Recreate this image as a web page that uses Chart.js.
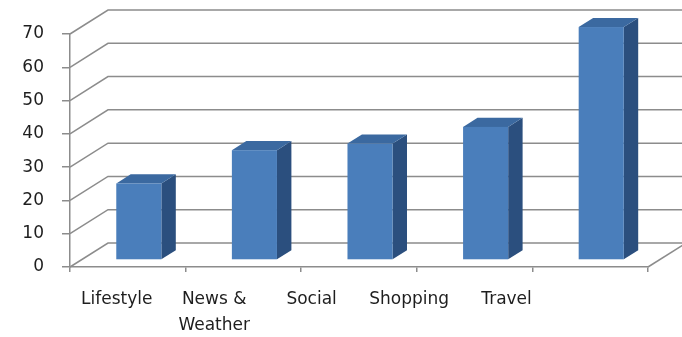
<!DOCTYPE html>
<html>
<head>
<meta charset="utf-8">
<script src="https://cdn.jsdelivr.net/npm/chart.js@4.4.1/dist/chart.umd.min.js"></script>
<style>
    html, body { margin: 0; padding: 0; background: #ffffff; }
    #wrap { width: 682px; height: 337px; position: relative; }
</style>
</head>
<body>
<div id="wrap"><canvas id="usage"></canvas></div>
<script>
// Categories and values
const categories = ['Lifestyle', ['News &', 'Weather'], 'Social', 'Shopping', 'Travel'];
const usageValues = [23, 33, 35, 40, 70];
const yTicks = [0, 10, 20, 30, 40, 50, 60, 70];

// 3D look: how far the back wall sits behind the front plane
const DEPTH_X = 38;
const DEPTH_Y = 24;
const BAR_FRONT = 0.29;   // bar front face, as a fraction of the depth
const BAR_DEPTH = 0.38;   // bar thickness, as a fraction of the depth

const GRID_COLOR = '#8c8c8c';
const FONT = '17px "DejaVu Sans", sans-serif';

// Walls, floor and gridlines behind the bars
const wallsPlugin = {
    id: 'walls',
    beforeDatasetsDraw(chart) {
        const { ctx, chartArea, scales } = chart;
        const y = scales.y;
        ctx.save();
        ctx.strokeStyle = GRID_COLOR;
        ctx.lineWidth = 1.5;
        yTicks.forEach(v => {
            const py = y.getPixelForValue(v);
            ctx.beginPath();
            ctx.moveTo(chartArea.left, py);
            ctx.lineTo(chartArea.left + DEPTH_X, py - DEPTH_Y);
            ctx.lineTo(chartArea.right + DEPTH_X, py - DEPTH_Y);
            ctx.stroke();
        });
        // right edge of the floor
        const base = y.getPixelForValue(0);
        ctx.beginPath();
        ctx.moveTo(chartArea.right, base);
        ctx.lineTo(chartArea.right + DEPTH_X, base - DEPTH_Y);
        ctx.stroke();
        ctx.restore();
    }
};

// Draw each bar as a box instead of a flat rectangle
const boxPlugin = {
    id: 'boxes',
    beforeDatasetDraw(chart, args) {
        const { ctx } = chart;
        const meta = args.meta;
        const fx = DEPTH_X * BAR_FRONT, fy = DEPTH_Y * BAR_FRONT;
        const dx = DEPTH_X * BAR_DEPTH, dy = DEPTH_Y * BAR_DEPTH;
        ctx.save();
        meta.data.forEach(bar => {
            const p = bar.getProps(['x', 'y', 'base', 'width'], true);
            const x0 = p.x - p.width / 2 + fx;
            const x1 = x0 + p.width;
            const top = p.y - fy;
            const bottom = p.base - fy;

            // side face
            ctx.fillStyle = '#2b4f7e';
            ctx.beginPath();
            ctx.moveTo(x1, top);
            ctx.lineTo(x1 + dx, top - dy);
            ctx.lineTo(x1 + dx, bottom - dy);
            ctx.lineTo(x1, bottom);
            ctx.closePath();
            ctx.fill();

            // top face
            ctx.fillStyle = '#3b69a0';
            ctx.beginPath();
            ctx.moveTo(x0, top);
            ctx.lineTo(x0 + dx, top - dy);
            ctx.lineTo(x1 + dx, top - dy);
            ctx.lineTo(x1, top);
            ctx.closePath();
            ctx.fill();

            // front face
            ctx.fillStyle = '#4a7ebb';
            ctx.fillRect(x0, top, p.width, bottom - top);
        });
        ctx.restore();
        return false;
    }
};

// Category names under the floor
const labelPlugin = {
    id: 'catLabels',
    afterDraw(chart) {
        const { ctx, chartArea, scales } = chart;
        const x = scales.x;
        ctx.save();
        ctx.font = FONT;
        ctx.fillStyle = '#1e1e1e';
        ctx.textAlign = 'center';
        ctx.textBaseline = 'middle';
        categories.forEach((label, i) => {
            const px = chartArea.left + (x.getPixelForValue(i) - chartArea.left) * 0.843 - 2;
            const lines = Array.isArray(label) ? label : [label];
            lines.forEach((line, j) => {
                ctx.fillText(line, px, chartArea.bottom + 33 + j * 26);
            });
        });
        ctx.restore();
    }
};

new Chart(document.getElementById('usage'), {
    type: 'bar',
    data: {
        labels: categories,
        datasets: [{
            data: usageValues,
            backgroundColor: '#4a7ebb',
            categoryPercentage: 1,
            barPercentage: 0.39
        }]
    },
    options: {
        responsive: true,
        maintainAspectRatio: false,
        animation: false,
        layout: { padding: { top: 34, right: 34, left: 0, bottom: 0 } },
        plugins: {
            legend: { display: false },
            tooltip: { enabled: false }
        },
        scales: {
            x: {
                afterFit(scale) { scale.height = 70; },
                ticks: { display: false },
                grid: {
                    drawOnChartArea: false,
                    tickLength: 5,
                    color: GRID_COLOR,
                    lineWidth: 1.5
                },
                border: { color: GRID_COLOR, width: 1.5 }
            },
            y: {
                min: 0,
                max: 70,
                afterFit(scale) { scale.width = 70; },
                afterBuildTicks(scale) { scale.ticks = yTicks.map(v => ({ value: v })); },
                ticks: {
                    padding: 18,
                    color: '#1e1e1e',
                    font: { family: '"DejaVu Sans", sans-serif', size: 17 }
                },
                grid: {
                    drawOnChartArea: false,
                    tickLength: 8,
                    color: GRID_COLOR,
                    lineWidth: 1.5
                },
                border: { color: GRID_COLOR, width: 1.5 }
            }
        }
    },
    plugins: [wallsPlugin, boxPlugin, labelPlugin]
});
</script>
</body>
</html>
